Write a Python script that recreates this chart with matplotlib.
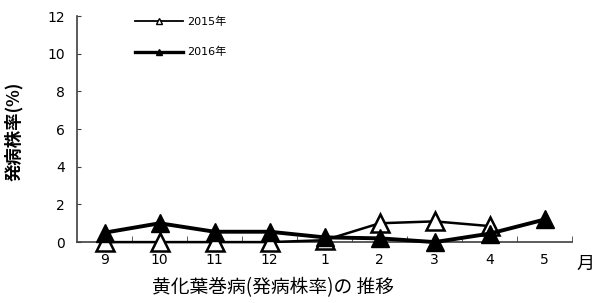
import matplotlib.pyplot as plt
from matplotlib.lines import Line2D

plt.rcParams['font.family'] = ['DejaVu Sans', 'Noto Sans CJK JP']

months = ["9", "10", "11", "12", "1", "2", "3", "4", "5"]
rate_2015 = [0, 0, 0, 0, 0.1, 1.0, 1.1, 0.85, None]
rate_2016 = [0.5, 1.0, 0.55, 0.55, 0.25, 0.2, 0.0, 0.45, 1.2]

JP = ['Noto Sans CJK JP', 'DejaVu Sans']

fig = plt.figure(figsize=(5.93, 3.03), dpi=100)
ax = fig.add_axes([0.130, 0.201, 0.835, 0.746])

x = list(range(len(months)))
x15 = [i for i, v in zip(x, rate_2015) if v is not None]
y15 = [v for v in rate_2015 if v is not None]

ax.plot(x15, y15, color="black", lw=1.8, marker="^", ms=13,
        mfc="white", mec="black", mew=1.8, clip_on=False, zorder=3)
ax.plot(x, rate_2016, color="black", lw=2.8, marker="^", ms=13,
        mfc="black", mec="black", clip_on=False, zorder=4)

ax.set_xlim(-0.5, len(months) - 0.5)
ax.set_ylim(0, 12)
ax.set_yticks(range(0, 13, 2))
ax.set_xticks(x)
ax.set_xticklabels(months)
ax.set_xticks([i + 0.5 for i in x], minor=True)
ax.tick_params(axis="x", which="major", length=0, pad=8, labelsize=10)
ax.tick_params(axis="x", which="minor", direction="in", length=4, color="#404040")
ax.tick_params(axis="y", direction="in", length=3, color="#404040", labelsize=10, pad=9)

for s in ["top", "right"]:
    ax.spines[s].set_visible(False)
for s in ["left", "bottom"]:
    ax.spines[s].set_color("#404040")
    ax.spines[s].set_linewidth(1.2)

fig.text(0.024, 0.565, "発病株率(%)", fontsize=12.5, rotation=90,
         ha="center", va="center", family=JP, weight="bold")
fig.text(0.46, 0.05, "黄化葉巻病(発病株率)の 推移", fontsize=13.5,
         ha="center", va="center", family=JP)
fig.text(0.987, 0.13, "月", fontsize=13, ha="center", va="center", family=JP)

h15 = Line2D([], [], color="black", lw=1.3, marker="^", ms=5, mfc="white", mec="black")
h16 = Line2D([], [], color="black", lw=2.4, marker="^", ms=5, mfc="black", mec="black")
ax.legend([h15, h16], ["2015年", "2016年"], loc="upper left",
          bbox_to_anchor=(0.228, 0.945), bbox_transform=fig.transFigure,
          frameon=False, fontsize=8, handlelength=4.3, handletextpad=0.4,
          labelspacing=1.8, borderpad=0, borderaxespad=0)

fig.savefig("out.png", dpi=100)
